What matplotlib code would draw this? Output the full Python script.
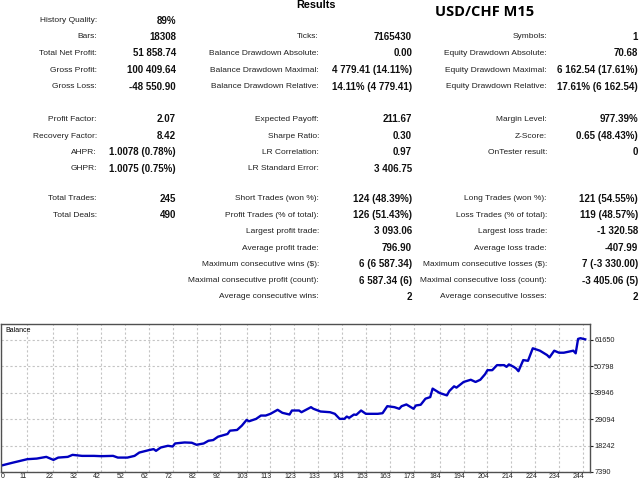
import numpy as np
import matplotlib
matplotlib.use("Agg")
import matplotlib.pyplot as plt
from matplotlib.transforms import ScaledTranslation

# report table: (label, value) per column, blocks separated by a small gap
col1 = [
    [("History Quality:", "89%"), ("Bars:", "18308"), ("Total Net Profit:", "51 858.74"),
     ("Gross Profit:", "100 409.64"), ("Gross Loss:", "-48 550.90")],
    [("Profit Factor:", "2.07"), ("Recovery Factor:", "8.42"),
     ("AHPR:", "1.0078 (0.78%)"), ("GHPR:", "1.0075 (0.75%)")],
    [("Total Trades:", "245"), ("Total Deals:", "490")],
]
col2 = [
    [None, ("Ticks:", "7165430"), ("Balance Drawdown Absolute:", "0.00"),
     ("Balance Drawdown Maximal:", "4 779.41 (14.11%)"),
     ("Balance Drawdown Relative:", "14.11% (4 779.41)")],
    [("Expected Payoff:", "211.67"), ("Sharpe Ratio:", "0.30"),
     ("LR Correlation:", "0.97"), ("LR Standard Error:", "3 406.75")],
    [("Short Trades (won %):", "124 (48.39%)"), ("Profit Trades (% of total):", "126 (51.43%)"),
     ("Largest profit trade:", "3 093.06"), ("Average profit trade:", "796.90"),
     ("Maximum consecutive wins ($):", "6 (6 587.34)"),
     ("Maximal consecutive profit (count):", "6 587.34 (6)"),
     ("Average consecutive wins:", "2")],
]
col3 = [
    [None, ("Symbols:", "1"), ("Equity Drawdown Absolute:", "70.68"),
     ("Equity Drawdown Maximal:", "6 162.54 (17.61%)"),
     ("Equity Drawdown Relative:", "17.61% (6 162.54)")],
    [("Margin Level:", "977.39%"), ("Z-Score:", "0.65 (48.43%)"), ("OnTester result:", "0")],
    [("Long Trades (won %):", "121 (54.55%)"), ("Loss Trades (% of total):", "119 (48.57%)"),
     ("Largest loss trade:", "-1 320.58"), ("Average loss trade:", "-407.99"),
     ("Maximum consecutive losses ($):", "7 (-3 330.00)"),
     ("Maximal consecutive loss (count):", "-3 405.06 (5)"),
     ("Average consecutive losses:", "2")],
]

# balance curve (trade number, balance)
trades = [0, 5, 8, 11, 15, 19, 22, 24, 28, 30, 34, 39, 42, 47, 49, 53, 56, 58, 62, 64,
          65, 67, 70, 72, 73, 77, 80, 82, 85, 87, 89, 91, 95, 96, 99, 101, 103, 104, 107, 109,
          111, 113, 116, 118, 121, 122, 125, 126, 130, 131, 134, 138, 140, 142, 144, 145, 146, 148, 149, 151,
          153, 158, 160, 162, 165, 167, 168, 170, 173, 174, 176, 178, 180, 181, 184, 187, 188, 190, 191, 194,
          197, 199, 201, 203, 204, 206, 208, 211, 212, 213, 215, 216, 217, 219, 221, 223, 226, 229, 230, 232,
          234, 236, 238, 240, 241, 242, 243, 245]
balance = [10000, 11240, 11940, 12650, 12900, 13600, 12360, 13310, 13600, 14430,
           14010, 14010, 13890, 14010, 13310, 13310, 14010, 15380, 16370, 16790,
           16080, 17450, 18150, 17860, 19110, 19520, 19400, 18570, 19110, 20220,
           20510, 21880, 23000, 24360, 24650, 26430, 28790, 28210, 29210, 30570,
           30570, 31280, 32930, 31690, 30990, 32640, 32640, 31940, 34010, 33350,
           32230, 31940, 31280, 29210, 29210, 30160, 29620, 30990, 30860, 32640,
           31280, 31280, 31530, 34420, 34010, 33350, 34420, 35130, 33350, 34710,
           35000, 37490, 38150, 41630, 39810, 38850, 40630, 42580, 42040, 44360,
           45270, 44360, 45270, 47550, 49200, 49200, 51270, 51270, 50570, 51560,
           50570, 49910, 48790, 53340, 53050, 58190, 57200, 55410, 54440, 57200,
           56370, 56370, 56780, 57200, 56120, 62040, 62330, 61859]

xtick_labels = [0, 11, 22, 32, 42, 52, 62, 72, 82, 92, 103, 113, 123, 133, 143,
                153, 163, 173, 184, 194, 204, 214, 224, 234, 244]
ytick_labels = [7390, 18242, 29094, 39946, 50798, 61650]

W, H = 640, 480
plt.rcParams['font.family'] = ['Liberation Sans', 'DejaVu Sans']

fig = plt.figure(figsize=(W / 100, H / 100), dpi=100)
fig.patch.set_facecolor("white")

def px(x, y):
    return x / W, 1 - y / H

# row y positions (pixels) for each block
block_rows = [[20.5, 37, 53.5, 70, 86.5], [119.5, 136, 152.5, 169],
              [199, 215.5, 231.5, 248, 264, 280.5, 296.5]]
columns = [(col1, 97, 176), (col2, 319, 412), (col3, 547, 638)]

for col, lab_x, val_x in columns:
    for b, block in enumerate(col):
        for r, item in enumerate(block):
            if item is None:
                continue
            lab, val = item
            y = block_rows[b][r]
            fig.text(*px(lab_x, y), lab, ha="right", va="center", fontsize=6.0, color="#202020")
            fig.text(*px(val_x, y), val, ha="right", va="center", fontsize=7.0,
                     fontweight="bold", color="#101010")

fig.text(*px(316, 5), "Results", ha="center", va="center", fontsize=7.8, fontweight="bold")
fig.text(*px(485, 12.5), "USD/CHF M15", ha="center", va="center", fontsize=10.5,
         fontweight="bold", family=["Open Sans", "DejaVu Sans"])

# balance graph
ax = fig.add_axes([1 / W, 8 / H, 589 / W, 148 / H])
ax.plot(trades, balance, color="#0000c0", lw=1.7)
step = ytick_labels[1] - ytick_labels[0]
ax.set_ylim(ytick_labels[0], ytick_labels[-1] + 0.6 * step)
ax.set_xlim(0, 247)
ax.set_xticks(xtick_labels)
ax.set_xticklabels([str(v) for v in xtick_labels])
ax.set_yticks(ytick_labels)
ax.set_yticklabels([str(v) for v in ytick_labels])
ax.yaxis.tick_right()
ax.grid(True, color="#c4c4c4", lw=0.8, ls=(0, (2, 2)))
ax.tick_params(axis="x", length=0, labelsize=5, pad=1, colors="#202020")
ax.tick_params(axis="y", length=2, labelsize=5.3, pad=1, colors="#202020")
for s in ax.spines.values():
    s.set_color("#505050")
    s.set_linewidth(1.0)
shift = ScaledTranslation(-4 / 100, 0, fig.dpi_scale_trans)
for i, t in enumerate(ax.get_xticklabels()):
    if i == 0:
        t.set_ha("left")
    else:
        t.set_transform(t.get_transform() + shift)
ax.text(4 / 589, 0.955, "Balance", transform=ax.transAxes, fontsize=5, va="center", ha="left")

fig.savefig("out.png", dpi=100, facecolor="white")
